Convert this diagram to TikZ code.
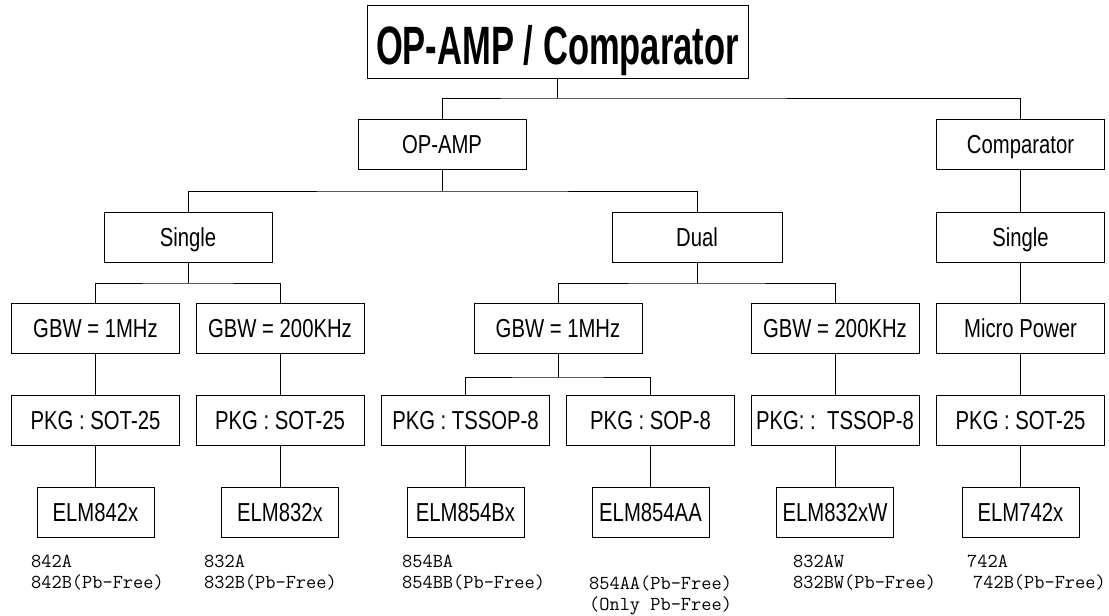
\documentclass[tikz,border=0pt]{standalone}
\usepackage{fontspec}
\setmainfont{Liberation Sans}
\newcommand{\cn}[1]{\scalebox{0.78}[1]{#1}}
\begin{document}
\begin{tikzpicture}[x=1pt,y=-1pt,
  box/.style={draw, line width=1pt, minimum width=168pt, minimum height=50pt, inner sep=0pt,
              text height=22pt, text depth=3.4pt,
              font=\fontsize{26}{30}\selectfont},
  elmbox/.style={box, minimum width=117pt},
  wire/.style={line width=1pt},
  lbl/.style={anchor=base west, align=left, inner sep=0pt,
              font=\ttfamily\fontsize{19.8}{20.5}\selectfont}]
\useasboundingbox (0,0) rectangle (1109,616);

% level 0
\node[box, minimum width=381pt, minimum height=73pt, text height=45pt, text depth=0pt,
      font=\bfseries\fontsize{54}{60}\selectfont] (title) at (557.5,41.5)
      {\scalebox{0.64}[1]{OP-AMP / Comparator}};
% level 1
\node[box] (opamp) at (442,144.5) {\cn{OP-AMP}};
\node[box] (comp) at (1020.5,144.5) {\cn{Comparator}};
% level 2
\node[box] (single1) at (188,237) {\cn{Single}};
\node[box, minimum width=170pt] (dual) at (697,237) {\cn{Dual}};
\node[box] (single2) at (1020.5,237) {\cn{Single}};
% level 3
\node[box] (gbw1) at (95.5,328.5) {\cn{GBW = 1MHz}};
\node[box] (gbw2) at (280,328.5) {\cn{GBW = 200KHz}};
\node[box] (gbw3) at (558,328.5) {\cn{GBW = 1MHz}};
\node[box] (gbw4) at (835,328.5) {\cn{GBW = 200KHz}};
\node[box] (micro) at (1020.5,328.5) {\cn{Micro Power}};
% level 4
\node[box] (pkg1) at (95.5,420) {\cn{PKG : SOT-25}};
\node[box] (pkg2) at (280,420) {\cn{PKG : SOT-25}};
\node[box] (pkg3) at (465.5,420) {\cn{PKG : TSSOP-8}};
\node[box] (pkg4) at (650.5,420) {\cn{PKG : SOP-8}};
\node[box] (pkg5) at (835,420) {\cn{PKG: :\ \ TSSOP-8}};
\node[box] (pkg6) at (1020.5,420) {\cn{PKG : SOT-25}};
% level 5
\node[elmbox] (elm1) at (95.5,512) {\cn{ELM842x}};
\node[elmbox] (elm2) at (280,512) {\cn{ELM832x}};
\node[elmbox] (elm3) at (465.5,512) {\cn{ELM854Bx}};
\node[elmbox] (elm4) at (650.5,512) {\cn{ELM854AA}};
\node[elmbox] (elm5) at (835,512) {\cn{ELM832xW}};
\node[elmbox] (elm6) at (1020.5,512) {\cn{ELM742x}};

% labels (anchor = baseline of last line)
\node[lbl] (l1) at (31,588) {842A\\842B(Pb-Free)};
\node[lbl] (l2) at (204,588) {832A\\832B(Pb-Free)};
\node[lbl] (l3) at (402,588) {854BA\\854BB(Pb-Free)};
\node[lbl] (l4) at (589,610) {854AA(Pb-Free)\\(Only Pb-Free)};
\node[lbl] (l5) at (793,588) {832AW\\832BW(Pb-Free)};
\node[lbl] (l6) at (967,588) {742A\\\hspace*{6pt}742B(Pb-Free)};

% bus points
\coordinate (b0) at (557.5,98);
\coordinate (b1) at (442,191);
\coordinate (b2) at (188,283);
\coordinate (b3) at (697,283);
\coordinate (b4) at (558,377);

% connectors
\draw[wire] (title.south) -- (b0);
\draw[wire] (opamp.north) |- (b0) -| (comp.north);
\draw[wire] (opamp.south) -- (b1);
\draw[wire] (single1.north) |- (b1) -| (dual.north);
\draw[wire] (single1.south) -- (b2);
\draw[wire] (gbw1.north) |- (b2) -| (gbw2.north);
\draw[wire] (dual.south) -- (b3);
\draw[wire] (gbw3.north) |- (b3) -| (gbw4.north);
\draw[wire] (gbw3.south) -- (b4);
\draw[wire] (pkg3.north) |- (b4) -| (pkg4.north);
\draw[wire] (comp.south) -- (single2.north);
\draw[wire] (single2.south) -- (micro.north);
\draw[wire] (gbw1.south) -- (pkg1.north);
\draw[wire] (gbw2.south) -- (pkg2.north);
\draw[wire] (gbw4.south) -- (pkg5.north);
\draw[wire] (micro.south) -- (pkg6.north);
\draw[wire] (pkg1.south) -- (elm1.north);
\draw[wire] (pkg2.south) -- (elm2.north);
\draw[wire] (pkg3.south) -- (elm3.north);
\draw[wire] (pkg4.south) -- (elm4.north);
\draw[wire] (pkg5.south) -- (elm5.north);
\draw[wire] (pkg6.south) -- (elm6.north);
\end{tikzpicture}
\end{document}
